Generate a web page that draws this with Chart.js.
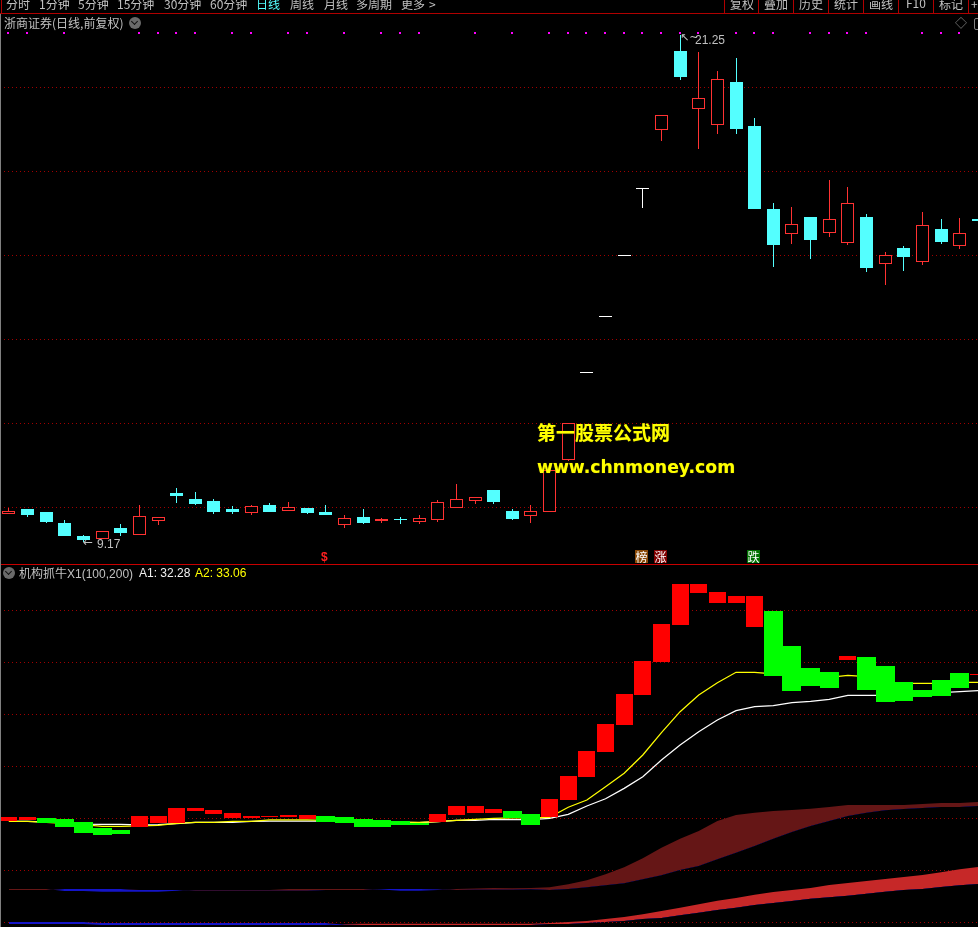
<!DOCTYPE html>
<html lang="zh">
<head>
<meta charset="utf-8">
<title>浙商证券 机构抓牛X1</title>
<script src="https://cdn.jsdelivr.net/npm/chart.js@4/dist/chart.umd.min.js"></script>
<style>
html,body{margin:0;padding:0;background:#000;width:978px;height:927px;overflow:hidden}
#page{position:relative;width:978px;height:927px;overflow:hidden;background:#000;font-family:"Noto Sans CJK SC","Liberation Sans",sans-serif;font-size:12px;color:#c0c0c0}
canvas{position:absolute;left:0;display:block}
.t{position:absolute;white-space:nowrap;line-height:12px}
.rule{position:absolute;background:#b00000}
.icon{position:absolute;width:12px;height:12px;border-radius:50%;background:#6a6a6a}
.icon:after{content:"";position:absolute;left:3px;top:2px;width:4px;height:4px;border-right:1.5px solid #111;border-bottom:1.5px solid #111;transform:rotate(45deg)}
.wm{position:absolute;white-space:nowrap;color:#ffff00;font-weight:bold;text-shadow:0 0 1px #707000}
.tag{position:absolute;width:13px;height:13px;top:550px;color:#fff;font-size:12px;line-height:13px;text-align:center}
.num{font-family:"Liberation Sans",sans-serif}
</style>
</head>
<body>
<div id="page">
<canvas id="priceChart" width="978" height="565" style="top:0"></canvas>
<canvas id="indicatorChart" width="978" height="362" style="top:565px"></canvas>

<div class="rule" style="left:0;top:13px;width:978px;height:1px"></div>
<div class="rule" style="left:1px;top:0;width:1px;height:13px"></div>
<div class="rule" style="left:0;top:564px;width:978px;height:1px;background:#c80000"></div>
<div style="position:absolute;left:0;top:14px;width:1px;height:913px;background:#808080"></div>

<span class="t" style="left:6px;top:-2px">分时</span>
<span class="t" style="left:39px;top:-2px">1分钟</span>
<span class="t" style="left:78px;top:-2px">5分钟</span>
<span class="t" style="left:117px;top:-2px">15分钟</span>
<span class="t" style="left:164px;top:-2px">30分钟</span>
<span class="t" style="left:210px;top:-2px">60分钟</span>
<span class="t" style="left:256px;top:-2px;color:#54ffff">日线</span>
<span class="t" style="left:290px;top:-2px">周线</span>
<span class="t" style="left:324px;top:-2px">月线</span>
<span class="t" style="left:356px;top:-2px">多周期</span>
<span class="t" style="left:401px;top:-2px">更多</span>
<span class="t" style="left:429px;top:-2px">&gt;</span>

<div class="rule" style="left:724px;top:0;width:1px;height:13px"></div>
<div class="rule" style="left:758px;top:0;width:1px;height:13px"></div>
<div class="rule" style="left:793px;top:0;width:1px;height:13px"></div>
<div class="rule" style="left:828px;top:0;width:1px;height:13px"></div>
<div class="rule" style="left:863px;top:0;width:1px;height:13px"></div>
<div class="rule" style="left:898px;top:0;width:1px;height:13px"></div>
<div class="rule" style="left:933px;top:0;width:1px;height:13px"></div>
<div class="rule" style="left:968px;top:0;width:1px;height:13px"></div>
<span class="t" style="left:730px;top:-2px">复权</span>
<span class="t" style="left:764px;top:-2px">叠加</span>
<span class="t" style="left:799px;top:-2px">历史</span>
<span class="t" style="left:834px;top:-2px">统计</span>
<span class="t" style="left:869px;top:-2px">画线</span>
<span class="t" style="left:906px;top:-3px">F10</span>
<span class="t" style="left:939px;top:-2px">标记</span>
<span class="t" style="left:971px;top:-2px">+</span>

<span class="t" style="left:4px;top:17px">浙商证券(日线,前复权)</span>
<div class="icon" style="left:129px;top:17px"></div>
<span class="t" style="left:955px;top:17px;color:#808080">◇</span>
<div style="position:absolute;left:974px;top:18px;width:8px;height:10px;border:1px solid #808080;border-radius:2px"></div>

<span class="t num" style="left:680px;top:32px;font-family:'DejaVu Sans';font-size:11px">↖~</span>
<span class="t num" style="left:695px;top:34px">21.25</span>
<span class="t num" style="left:83px;top:536px;font-family:'DejaVu Sans';font-size:12px">←</span>
<span class="t num" style="left:97px;top:538px">9.17</span>

<span class="t num" style="left:321px;top:551px;color:#ff2020;font-weight:bold">$</span>
<div class="tag" style="left:635px;background:#8a4a08">榜</div>
<div class="tag" style="left:654px;background:#800000">涨</div>
<div class="tag" style="left:747px;background:#007000">跌</div>

<div class="icon" style="left:3px;top:567px"></div>
<span class="t" style="left:19px;top:567px">机构抓牛<span class="num">X1(100,200)</span></span>
<span class="t num" style="left:139px;top:567px;color:#f0f0f0">A1: 32.28</span>
<span class="t num" style="left:195px;top:567px;color:#ffff00">A2: 33.06</span>

<div class="wm" style="left:537px;top:420px;font-size:19px;line-height:24px">第一股票公式网</div>
<div class="wm" style="left:537px;top:455px;font-size:17.25px;line-height:24px;font-family:'DejaVu Sans'">www.chnmoney.com</div>
</div>

<script>
// ---------- price pane ----------
const opens  = [9.84,9.95,9.88,9.62,9.31,9.25,9.50,9.34,9.67,10.33,10.19,10.14,9.95,9.86,10.05,9.90,9.98,9.88,9.57,9.76,9.67,9.70,9.65,9.70,9.98,10.15,10.40,9.90,9.79,9.89,11.13,13.19,14.52,15.98,17.56,18.98,20.86,19.48,19.10,20.12,19.07,17.10,16.51,16.90,16.53,16.29,16.90,15.79,16.17,15.84,16.62,16.22,16.86];
const closes = [9.91,9.81,9.64,9.31,9.21,9.43,9.38,9.79,9.76,10.26,10.07,9.88,9.88,10.02,9.88,10.00,9.86,9.81,9.73,9.62,9.71,9.70,9.74,10.11,10.18,10.25,10.12,9.71,9.90,10.88,11.99,13.19,14.52,15.98,17.56,19.33,20.24,19.75,20.18,19.00,17.10,16.24,16.75,16.36,16.85,17.23,15.69,15.99,15.95,16.71,16.31,16.52,16.81];
const highs  = [9.98,9.95,9.88,9.69,9.33,9.43,9.60,10.05,9.76,10.45,10.36,10.19,10.02,10.05,10.10,10.12,9.98,10.05,9.81,9.95,9.74,9.76,9.81,10.17,10.55,10.25,10.40,9.95,10.05,10.88,11.99,13.19,14.52,15.98,17.56,19.33,21.25,20.83,20.38,20.69,19.26,17.24,17.14,16.90,17.79,17.62,16.98,16.07,16.21,17.02,16.86,16.88,16.86];
const lows   = [9.84,9.77,9.62,9.31,9.17,9.25,9.31,9.34,9.57,10.10,10.05,9.83,9.83,9.81,9.88,9.90,9.83,9.81,9.50,9.60,9.62,9.60,9.60,9.64,9.98,10.07,10.07,9.69,9.62,9.89,11.10,13.19,14.52,15.98,17.12,18.72,20.17,18.52,18.88,18.88,17.10,15.71,16.26,15.90,16.43,16.24,15.60,15.29,15.62,15.76,16.26,16.14,16.81];
const limitUpDays = [31,32,33,34];
const signalDays = [0,1,3,7,8,9,10,12,13,15,16,18,20,21,22,25,27,29,30,31,32,33,34,35,36,37,39,40,41,43,44,45,46,49,50,51];
const signalLevel = 21.29;
const priceTicks = [10,12,14,16,18,20];

// ---------- indicator pane ----------
const barHigh = [20.13,20.13,20.03,19.93,19.64,19.07,18.88,20.22,20.22,20.99,20.99,20.80,20.51,20.22,20.22,20.32,20.32,20.22,20.13,19.93,19.84,19.74,19.55,20.41,21.18,21.18,20.89,20.70,20.41,21.86,24.07,26.47,29.07,31.95,35.13,38.68,42.53,42.53,41.76,41.38,41.38,39.93,36.57,34.45,34.07,35.61,35.51,34.64,33.11,32.34,33.30,33.97,33.88];
const barLow  = [19.74,19.84,19.55,19.16,18.59,18.39,18.49,19.16,19.55,19.55,20.70,20.41,20.03,20.03,20.13,20.13,19.93,19.64,19.55,19.16,19.16,19.36,19.36,19.64,20.32,20.51,20.51,20.03,19.36,20.13,21.76,23.97,26.38,28.97,31.86,35.03,38.59,41.66,40.70,40.70,38.39,33.68,32.24,32.72,32.53,35.22,32.34,31.18,31.28,31.66,31.76,32.53,33.78];
const barRising = [1,1,0,0,0,0,0,1,1,1,1,1,1,1,1,1,1,0,0,0,0,0,0,1,1,1,1,0,0,1,1,1,1,1,1,1,1,1,1,1,1,0,0,0,0,1,0,0,0,0,0,0,1];
const seriesA1 = [19.71,19.71,19.65,19.55,19.45,19.42,19.42,19.36,19.38,19.48,19.62,19.62,19.62,19.71,19.74,19.74,19.74,19.72,19.70,19.66,19.62,19.60,19.58,19.67,19.81,19.81,19.90,19.87,19.87,20.00,20.38,21.18,21.88,22.88,24.00,25.61,27.05,28.33,29.45,30.35,30.73,30.83,31.12,31.25,31.44,31.83,31.83,31.83,31.95,32.02,32.08,32.17,32.28];
const seriesA2 = [19.71,19.71,19.62,19.52,19.38,19.23,19.23,19.26,19.33,19.52,19.62,19.62,19.71,19.71,19.84,19.84,19.84,19.80,19.75,19.70,19.65,19.63,19.62,19.67,19.81,19.90,20.00,20.03,20.03,20.10,21.06,21.76,23.04,24.33,26.09,28.23,30.25,31.86,33.04,34.04,34.04,33.88,33.71,33.62,33.56,33.75,33.62,33.13,32.98,32.98,32.98,33.08,33.06];
const ribbonFastA = [13.20,13.20,13.20,13.01,13.01,12.94,12.94,12.94,12.94,13.04,13.11,13.11,13.11,13.11,13.11,13.20,13.20,13.20,13.20,13.20,13.15,13.04,13.04,13.11,13.20,13.25,13.30,13.27,13.30,13.37,13.65,14.04,14.62,15.29,16.15,17.17,18.04,18.78,19.74,20.32,20.54,20.70,20.80,20.92,21.09,21.28,21.28,21.28,21.28,21.38,21.47,21.47,21.57];
const ribbonSlowA = [13.11,13.11,13.11,13.20,13.20,13.20,13.20,13.11,13.11,13.11,13.04,13.04,13.04,13.04,13.04,13.04,13.04,13.11,13.11,13.11,13.20,13.20,13.20,13.17,13.11,13.13,13.13,13.13,13.17,13.11,13.20,13.37,13.56,13.75,14.13,14.52,15.03,15.41,16.06,16.69,17.34,18.04,18.68,19.26,19.74,20.22,20.54,20.77,20.89,20.99,21.09,21.09,21.18];
const ribbonFastB = [9.83,9.83,9.83,9.83,9.83,9.74,9.74,9.74,9.74,9.74,9.74,9.74,9.74,9.74,9.74,9.74,9.74,9.74,9.83,9.87,9.87,9.87,9.87,9.87,9.87,9.87,9.87,9.87,9.87,9.93,10.03,10.13,10.32,10.51,10.77,11.09,11.40,11.73,12.08,12.34,12.65,12.91,13.11,13.30,13.59,13.78,13.97,14.16,14.36,14.55,14.81,15.10,15.32];
const ribbonSlowB = [10.03,10.03,10.03,10.03,10.03,9.93,9.93,9.93,9.93,9.93,9.93,9.93,9.93,9.93,9.93,9.93,9.93,9.93,9.77,9.74,9.74,9.74,9.74,9.74,9.74,9.74,9.74,9.74,9.74,9.83,9.83,9.93,10.03,10.13,10.32,10.41,10.67,10.92,11.18,11.40,11.66,11.86,12.05,12.27,12.40,12.56,12.75,12.94,13.11,13.20,13.39,13.56,13.68];
const indicatorTicks = [10,15,20,25,30,35,40];

const RED='#ff3232', CYAN='#54ffff', WHITE='#ffffff', GRID='#a00000', DARKRED='#651616', BRIGHTRED='#c62828', BLUE='#1414c8';
const DAY_PX=18.645, FIRST_DAY_PX=8.88;
const days = opens.map((_,i)=>i);

const snapPlugin = {
  id:'snap',
  beforeDatasetsDraw(chart){
    chart.getSortedVisibleDatasetMetas().forEach(meta=>{
      if(meta.type==='bar'){
        meta.data.forEach(el=>{
          el.x=Math.floor(el.x)+0.5;
          el.y=Math.round(el.y);
          el.base=Math.round(el.base);
        });
      } else if(meta.type==='scatter'){
        meta.data.forEach(el=>{ el.x=Math.floor(el.x); el.y=Math.round(el.y); });
      }
    });
  }
};

function baseOptions(yMin,yMax,ticks){
  return {
    responsive:false, devicePixelRatio:1, animation:false, events:[],
    layout:{padding:0,autoPadding:false},
    plugins:{legend:{display:false},tooltip:{enabled:false}},
    elements:{bar:{inflateAmount:0}},
    scales:{
      x:{type:'linear',display:false,offset:false,min:-FIRST_DAY_PX/DAY_PX,max:(978-FIRST_DAY_PX)/DAY_PX},
      y:{type:'linear',min:yMin,max:yMax,
         afterBuildTicks(s){s.ticks=ticks.map(v=>({value:v}));},
         afterFit(s){s.width=0;},
         ticks:{display:false},
         border:{display:false,dash:[1,3]},
         grid:{color:GRID,lineWidth:1,drawTicks:false}}
    }
  };
}

function candleColor(i){
  if(limitUpDays.includes(i)) return WHITE;
  return closes[i]>opens[i]?RED:CYAN;
}

new Chart(document.getElementById('priceChart'),{
  type:'bar',
  data:{datasets:[
    {type:'scatter',label:'signal',order:0,data:signalDays.map(d=>({x:d,y:signalLevel})),
     showLine:false,pointStyle:'rect',pointRadius:1.42,backgroundColor:'#ff00ff',borderWidth:0},
    {label:'body',order:1,grouped:false,barThickness:13,minBarLength:1,inflateAmount:0,
     data:days.map(i=>({x:i,y:[opens[i],closes[i]]})),
     backgroundColor:days.map(i=>closes[i]>opens[i]?'#000000':candleColor(i)),
     borderColor:days.map(candleColor),borderWidth:days.map(i=>closes[i]>opens[i]?1:0),borderSkipped:false},
    {label:'wick',order:2,grouped:false,barThickness:1,minBarLength:1,inflateAmount:0,
     data:days.map(i=>({x:i,y:[lows[i],highs[i]]})),
     backgroundColor:days.map(candleColor),borderWidth:0}
  ]},
  options:baseOptions(927/42,(927-565)/42,priceTicks),
  plugins:[snapPlugin]
});

const pts = arr => arr.map((v,i)=>({x:i,y:v}));
function ribbon(values,target,order,above,below){
  return {type:'line',order,data:pts(values),pointRadius:0,borderWidth:0,tension:0,
          fill:target===null?false:{target,above,below}};
}
function bars(flag,color,thick,order){
  return {order,grouped:false,barThickness:thick,inflateAmount:0,backgroundColor:color,borderWidth:0,
          data:days.filter(i=>barRising[i]===flag).map(i=>({x:i,y:[barLow[i],barHigh[i]]}))};
}

new Chart(document.getElementById('indicatorChart'),{
  type:'bar',
  data:{datasets:[
    ribbon(ribbonFastB,1,10,BRIGHTRED,BLUE),
    ribbon(ribbonSlowB,null,11),
    ribbon(ribbonFastA,3,8,DARKRED,BLUE),
    ribbon(ribbonSlowA,null,9),
    {type:'line',label:'A1',order:5,data:pts(seriesA1),borderColor:'#ffffff',borderWidth:1.25,pointRadius:0,tension:0,fill:false},
    {type:'line',label:'A2',order:4,data:pts(seriesA2),borderColor:'#ffff00',borderWidth:1.25,pointRadius:0,tension:0,fill:false},
    bars(1,'#ff0000',17,2),
    bars(0,'#00ff00',19,1)
  ]},
  options:baseOptions((1026.3-565)/10.4,(1026.3-927)/10.4,indicatorTicks),
  plugins:[snapPlugin]
});
</script>
</body>
</html>
